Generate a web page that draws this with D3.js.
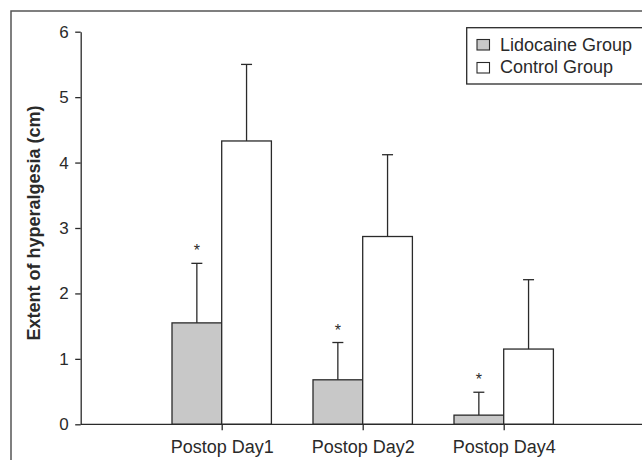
<!DOCTYPE html>
<html>
<head>
<meta charset="utf-8">
<script src="https://cdn.jsdelivr.net/npm/d3@7"></script>
<style>
  body { margin: 0; background: #fff; }
  svg { display: block; font-family: "Liberation Sans", Arial, sans-serif; }
</style>
</head>
<body>
<svg id="chart" width="642" height="460"></svg>
<script>
const categories = ["Postop Day1", "Postop Day2", "Postop Day4"];
const groups = ["Lidocaine Group", "Control Group"];
const lidocaine_mean = [1.55, 0.68, 0.14];
const lidocaine_err = [2.46, 1.25, 0.49];
const control_mean = [4.33, 2.87, 1.15];
const control_err = [5.50, 4.12, 2.21];
const significant = [true, true, true];
const y_ticks = [0, 1, 2, 3, 4, 5, 6];

const GROUP_FILL = { "Lidocaine Group": "#c8c8c8", "Control Group": "#ffffff" };
const INK = "#2a2a2a";

let svg = d3.select("#chart");

// outer frame, cut off at right and bottom like the scan
svg.append("rect")
  .attr("x", 11).attr("y", 11)
  .attr("width", 700).attr("height", 500)
  .attr("fill", "none")
  .attr("stroke", "#555")
  .attr("stroke-width", 1.5);

let x0 = 80.7, x1 = 642;
let y = d3.scaleLinear().domain([0, 6]).range([424.3, 31.7]);
let x = d3.scalePoint().domain(categories).range([221.7, 503.7]);
let sub = d3.scaleBand().domain(groups).range([-49.7, 49.7]);

// build rows
let rows = [];
categories.forEach((c, i) => {
  rows.push({ cat: c, group: groups[0], mean: lidocaine_mean[i], err: lidocaine_err[i], star: significant[i] });
  rows.push({ cat: c, group: groups[1], mean: control_mean[i], err: control_err[i], star: false });
});

// error bars (drawn under bars)
let eb = svg.append("g").attr("stroke", INK).attr("stroke-width", 1.3);
rows.forEach((r) => {
  let cx = x(r.cat) + sub(r.group) + sub.bandwidth() / 2;
  eb.append("line")
    .attr("x1", cx).attr("x2", cx)
    .attr("y1", y(r.mean)).attr("y2", y(r.err));
  eb.append("line")
    .attr("x1", cx - 5.5).attr("x2", cx + 5.5)
    .attr("y1", y(r.err)).attr("y2", y(r.err));
});

// bars
svg.append("g")
  .selectAll("rect")
  .data(rows)
  .join("rect")
  .attr("x", (d) => x(d.cat) + sub(d.group))
  .attr("width", sub.bandwidth())
  .attr("y", (d) => y(d.mean))
  .attr("height", (d) => y(0) - y(d.mean))
  .attr("fill", (d) => GROUP_FILL[d.group])
  .attr("stroke", INK)
  .attr("stroke-width", 1.3);

// significance stars
svg.append("g")
  .selectAll("text")
  .data(rows.filter((d) => d.star))
  .join("text")
  .attr("x", (d) => x(d.cat) + sub(d.group) + sub.bandwidth() / 2)
  .attr("y", (d) => y(d.err) - 7)
  .attr("text-anchor", "middle")
  .attr("font-size", 16)
  .attr("fill", INK)
  .text("*");

// y axis
let y_axis = svg.append("g")
  .attr("transform", `translate(${x0},0)`)
  .call(d3.axisLeft(y).tickValues(y_ticks).tickFormat(d3.format("d")).tickSize(5.5).tickPadding(6.5).tickSizeOuter(0));
y_axis.select(".domain").attr("stroke", INK).attr("stroke-width", 1.3);
y_axis.selectAll(".tick line").attr("stroke", INK).attr("stroke-width", 1.3);
y_axis.selectAll(".tick text")
  .attr("font-size", 17)
  .attr("fill", INK)
  .attr("font-family", "Liberation Sans, Arial, sans-serif");

// x axis
let x_axis = svg.append("g")
  .attr("transform", `translate(0,${y(0)})`)
  .call(d3.axisBottom(x).tickSize(6).tickPadding(10).tickSizeOuter(0));
x_axis.select(".domain").remove();
x_axis.append("line")
  .attr("x1", x0).attr("x2", x1)
  .attr("stroke", INK).attr("stroke-width", 1.3);
x_axis.selectAll(".tick line").attr("stroke", INK).attr("stroke-width", 1.3);
x_axis.selectAll(".tick text")
  .attr("font-size", 18)
  .attr("fill", INK)
  .attr("font-family", "Liberation Sans, Arial, sans-serif");

// y axis title
svg.append("text")
  .attr("transform", "translate(40,223) rotate(-90)")
  .attr("text-anchor", "middle")
  .attr("font-size", 18)
  .attr("font-weight", "bold")
  .attr("fill", INK)
  .text("Extent of hyperalgesia (cm)");

// legend
let legend = svg.append("g");
legend.append("rect")
  .attr("x", 466.7).attr("y", 27.7)
  .attr("width", 200).attr("height", 56.3)
  .attr("fill", "#fff")
  .attr("stroke", INK)
  .attr("stroke-width", 1.3);
groups.forEach((g, i) => {
  legend.append("rect")
    .attr("x", 477).attr("y", 39.5 + i * 23)
    .attr("width", 12.5).attr("height", 10.5)
    .attr("fill", GROUP_FILL[g])
    .attr("stroke", INK)
    .attr("stroke-width", 1.1);
  legend.append("text")
    .attr("x", 500).attr("y", 50.5 + i * 22.5)
    .attr("font-size", 18)
    .attr("fill", INK)
    .text(g);
});
</script>
</body>
</html>
